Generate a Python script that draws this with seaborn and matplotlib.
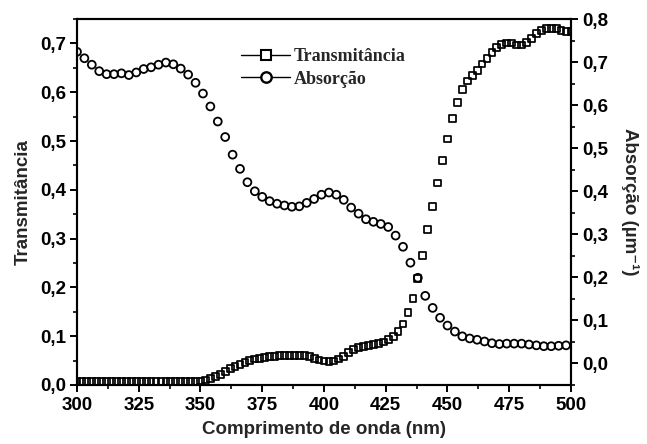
import numpy as np
import pandas as pd
import matplotlib
matplotlib.use("Agg")
import matplotlib.pyplot as plt
from matplotlib.lines import Line2D
from matplotlib.ticker import MultipleLocator, FuncFormatter
import seaborn as sns

# ---- data ----
wl_abs = list(range(300, 499, 3))
absorcao = [0.724, 0.709, 0.694, 0.679, 0.672, 0.672, 0.674, 0.670, 0.676, 0.684,
            0.688, 0.694, 0.699, 0.695, 0.685, 0.671, 0.652, 0.627, 0.597, 0.562,
            0.526, 0.485, 0.452, 0.421, 0.400, 0.387, 0.377, 0.371, 0.367, 0.364,
            0.365, 0.373, 0.382, 0.392, 0.397, 0.392, 0.380, 0.362, 0.348, 0.335,
            0.329, 0.324, 0.317, 0.297, 0.271, 0.234, 0.199, 0.157, 0.129, 0.106,
            0.088, 0.074, 0.063, 0.058, 0.055, 0.051, 0.047, 0.045, 0.046, 0.046,
            0.046, 0.044, 0.042, 0.040, 0.040, 0.041, 0.042]

wl_trans = list(range(300, 501, 2))
transmitancia = [0.007, 0.007, 0.007, 0.007, 0.007, 0.007, 0.007, 0.007, 0.007, 0.007,
                 0.007, 0.007, 0.007, 0.007, 0.007, 0.007, 0.007, 0.007, 0.007, 0.007,
                 0.007, 0.007, 0.007, 0.007, 0.007,
                 0.008, 0.010, 0.013, 0.017, 0.022, 0.027, 0.033, 0.038, 0.042, 0.046,
                 0.050, 0.053, 0.055, 0.057, 0.058, 0.059, 0.060, 0.061, 0.061, 0.061,
                 0.061, 0.060, 0.058, 0.055, 0.051, 0.049, 0.048, 0.049, 0.053, 0.059,
                 0.066, 0.072, 0.076, 0.079, 0.081, 0.083, 0.085, 0.088, 0.093, 0.100,
                 0.110, 0.125, 0.148, 0.178, 0.218, 0.265, 0.318, 0.365, 0.414, 0.460,
                 0.504, 0.546, 0.579, 0.606, 0.623, 0.634, 0.645, 0.658, 0.670, 0.682,
                 0.691, 0.698, 0.701, 0.701, 0.697, 0.697, 0.702, 0.710, 0.720, 0.727,
                 0.730, 0.731, 0.730, 0.726, 0.725, 0.724]

label_t = "Transmitância"
label_a = "Absorção"
xlabel = "Comprimento de onda (nm)"
ylabel_left = "Transmitância"
ylabel_right = "Absorção (µm⁻¹)"

df_t = pd.DataFrame({"wl": wl_trans, "T": transmitancia})
df_a = pd.DataFrame({"wl": wl_abs, "A": absorcao})

sns.set_style("ticks")
plt.rcParams["font.family"] = ["Liberation Sans", "DejaVu Sans"]

fig = plt.figure(figsize=(6.47, 4.44), dpi=100)
ax = fig.add_axes([0.119, 0.133, 0.7635, 0.824])
ax2 = ax.twinx()

sns.scatterplot(data=df_t, x="wl", y="T", ax=ax, marker="s", s=24,
                facecolors="none", edgecolor="black", linewidth=1.25, legend=False)
sns.scatterplot(data=df_a, x="wl", y="A", ax=ax2, marker="o", s=32,
                facecolors="none", edgecolor="black", linewidth=1.3, legend=False)

ax.set_xlim(300, 500)
ax.set_ylim(0.0, 0.75)
ax2.set_ylim(-0.05, 0.8)

comma = FuncFormatter(lambda v, p: f"{v:.1f}".replace(".", ","))
comma0 = FuncFormatter(lambda v, p: f"{v:.0f}")

ax.xaxis.set_major_locator(MultipleLocator(25))
ax.xaxis.set_minor_locator(MultipleLocator(12.5))
ax.xaxis.set_major_formatter(comma0)
ax.yaxis.set_major_locator(MultipleLocator(0.1))
ax.yaxis.set_minor_locator(MultipleLocator(0.05))
ax.yaxis.set_major_formatter(comma)
ax2.yaxis.set_major_locator(MultipleLocator(0.1))
ax2.yaxis.set_minor_locator(MultipleLocator(0.05))
ax2.yaxis.set_major_formatter(comma)

for a in (ax, ax2):
    for sp in a.spines.values():
        sp.set_visible(True)
        sp.set_color("black")
        sp.set_linewidth(1.5)
    a.tick_params(which="major", direction="out", length=5, width=1.4, colors="black",
                  labelsize=13.5, pad=3)
    a.tick_params(which="minor", direction="out", length=3, width=1.2, colors="black")
    for lab in a.get_xticklabels() + a.get_yticklabels():
        lab.set_fontweight("bold")

ax.tick_params(axis="x", which="major", pad=4)
ax.tick_params(axis="y", which="both", left=True, right=False)
ax.tick_params(axis="x", which="both", bottom=True, top=False)
ax2.tick_params(axis="y", which="both", right=True, left=False)

ax.set_xlabel(xlabel, fontsize=13.5, fontweight="bold", labelpad=5)
ax.set_ylabel(ylabel_left, fontsize=13.5, fontweight="bold", labelpad=6)
ax2.set_ylabel(ylabel_right, fontsize=13.5, fontweight="bold", rotation=270,
               labelpad=22, family=["Liberation Sans", "DejaVu Sans"])

handles = [
    Line2D([], [], color="black", lw=1.0, marker="s", ms=6.5, mfc="white", mec="black", mew=1.5),
    Line2D([], [], color="black", lw=1.0, marker="o", ms=7.5, mfc="white", mec="black", mew=1.7),
]
ax.legend(handles, [label_t, label_a], loc="upper left", bbox_to_anchor=(0.30, 0.965),
          frameon=False, handlelength=2.7, handletextpad=0.2, labelspacing=0.3,
          prop={"family": "Liberation Serif", "weight": "bold", "size": 13})

fig.savefig("out.png", dpi=100)
